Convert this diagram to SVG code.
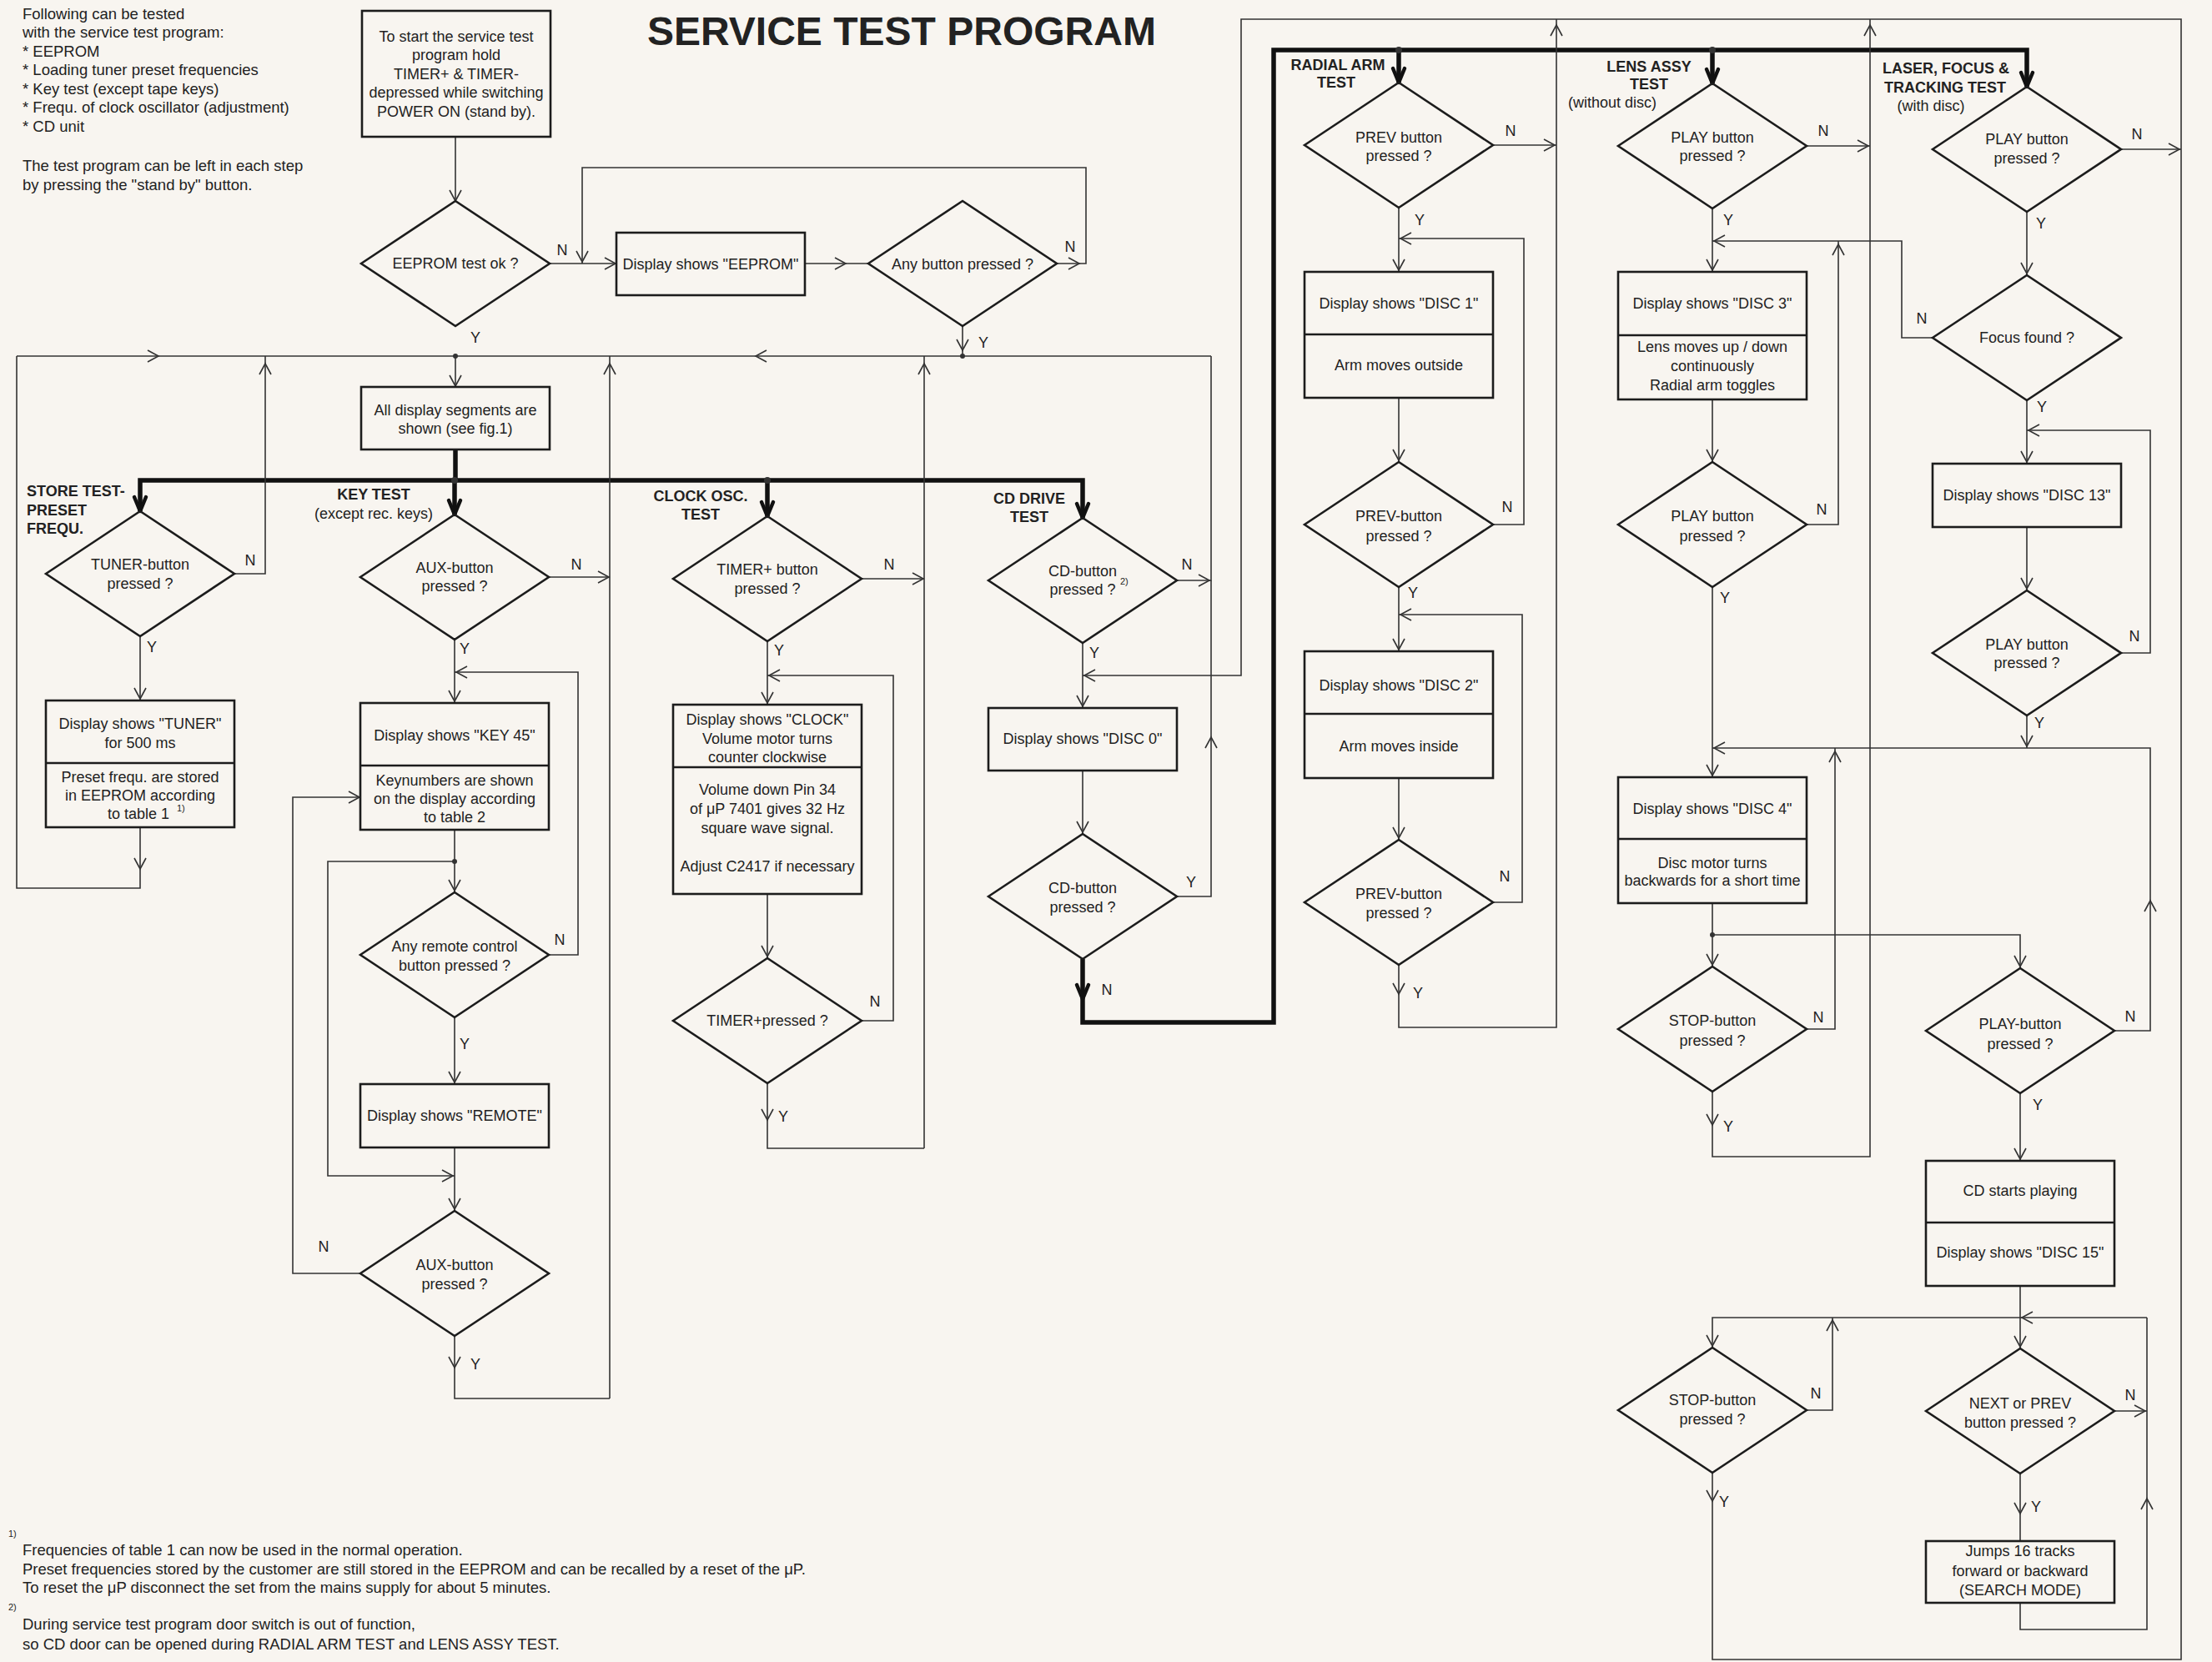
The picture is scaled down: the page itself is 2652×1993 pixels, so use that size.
<svg xmlns="http://www.w3.org/2000/svg" width="2652" height="1993" viewBox="0 0 2652 1993">
<style>
.n rect,.n polygon,.n line{fill:none;stroke:#1c1c1c;stroke-width:2.6}
.c path{fill:none;stroke:#333;stroke-width:1.6}
.k path{fill:none;stroke:#111;stroke-width:5.5;stroke-linejoin:miter}
text{font-family:"Liberation Sans",Arial,Helvetica,sans-serif;fill:#222}
.t{font-size:18px;text-anchor:middle}
.b{font-size:18px;font-weight:bold;text-anchor:middle}
.bl{font-size:18px;font-weight:bold}
.l{font-size:18.5px}
.s{font-size:11px}
.yn{font-size:18px;text-anchor:middle}
.d{fill:#333}
</style>
<defs>
<path id="ar" d="M-13,-7 L0,0 L-13,7" fill="none" stroke="#333" stroke-width="1.6"/>
<path id="tar" d="M-17,-7 L0,0 L-17,7" fill="none" stroke="#111" stroke-width="4.5" stroke-linejoin="round" stroke-linecap="round"/>
</defs>
<rect width="2652" height="1993" fill="#f8f5f0"/>

<text x="776" y="54" font-size="48" font-weight="bold">SERVICE TEST PROGRAM</text>

<g id="intro" class="l">
<text x="27" y="23">Following can be tested</text>
<text x="27" y="45">with the service test program:</text>
<text x="27" y="68">* EEPROM</text>
<text x="27" y="90">* Loading tuner preset frequencies</text>
<text x="27" y="113">* Key test (except tape keys)</text>
<text x="27" y="135">* Frequ. of clock oscillator (adjustment)</text>
<text x="27" y="158">* CD unit</text>
<text x="27" y="205">The test program can be left in each step</text>
<text x="27" y="228">by pressing the "stand by" button.</text>
</g>

<!-- connectors -->
<g id="connectors">
<g class="k">
<path d="M546,539 V576 M168,613 V576 H1298 V621 M545,576 V617 M920,576 V619"/>
<path d="M1298,1150 V1226 H1527 V60 H2430 V104 M1677,60 V99 M2053,60 V100"/>
</g>
<use href="#tar" transform="translate(168,613) rotate(90)"/>
<use href="#tar" transform="translate(545,617) rotate(90)"/>
<use href="#tar" transform="translate(920,619) rotate(90)"/>
<use href="#tar" transform="translate(1298,621) rotate(90)"/>
<use href="#tar" transform="translate(1298,1198) rotate(90)"/>
<use href="#tar" transform="translate(1677,99) rotate(90)"/>
<use href="#tar" transform="translate(2053,100) rotate(90)"/>
<use href="#tar" transform="translate(2430,104) rotate(90)"/>
<circle class="d" cx="545" cy="576" r="4"/>
<circle class="d" cx="920" cy="576" r="4"/>
<circle class="d" cx="1677" cy="60" r="4"/>
<circle class="d" cx="2053" cy="60" r="4"/>

<g class="c">
<path d="M546,164 V241"/>
<path d="M659,316 H739"/>
<path d="M965,316 H1041"/>
<path d="M1267,316 H1302 V201 H698 V316"/>
<path d="M1154,391 V427"/>
<path d="M20,427 H1452"/>
<path d="M546,427 V464"/>
<path d="M281,688 H318 V427"/>
<path d="M168,763 V840"/>
<path d="M168,992 V1065 H20 V427"/>
<path d="M658,692 H731"/>
<path d="M731,1677 V427"/>
<path d="M545,767 V843"/>
<path d="M658,1145 H693 V806 H545"/>
<path d="M545,995 V1070"/>
<path d="M545,1033 H393 V1410 H545"/>
<path d="M545,1220 V1300"/>
<path d="M545,1376 V1452"/>
<path d="M432,1527 H351 V956 H432"/>
<path d="M545,1602 V1677 H731"/>
<path d="M1033,694 H1108"/>
<path d="M1108,1377 V427"/>
<path d="M920,769 V845"/>
<path d="M1033,1224 H1071 V810 H920"/>
<path d="M920,1072 V1149"/>
<path d="M920,1299 V1377 H1108"/>
<path d="M1411,696 H1452 V427"/>
<path d="M1298,771 V849"/>
<path d="M1298,924 V1000"/>
<path d="M1411,1075 H1452 V696"/>
<path d="M2053,1766 V1990 H2615 V23 H1488 V810 H1298"/>
<path d="M1790,174 H1866"/>
<path d="M1677,1157 V1232 H1866 V23"/>
<path d="M1677,249 V326"/>
<path d="M1790,629 H1827 V286 H1677"/>
<path d="M1677,477 V554"/>
<path d="M1677,704 V781"/>
<path d="M1790,1082 H1825 V737 H1677"/>
<path d="M1677,933 V1007"/>
<path d="M2166,175 H2242"/>
<path d="M2053,1309 V1387 H2242 V23"/>
<path d="M2053,250 V326"/>
<path d="M2317,405 H2280 V289 H2053"/>
<path d="M2166,629 H2204 V289"/>
<path d="M2053,479 V554"/>
<path d="M2053,704 V932"/>
<path d="M2430,858 V897"/>
<path d="M2053,897 H2578 V1236 H2535"/>
<path d="M2166,1234 H2200 V897"/>
<path d="M2053,1083 V1159"/>
<path d="M2053,1121 H2422 V1161"/>
<path d="M2543,179 H2615"/>
<path d="M2430,254 V330"/>
<path d="M2430,480 V556"/>
<path d="M2543,783 H2578 V516 H2430"/>
<path d="M2430,632 V708"/>
<path d="M2422,1311 V1392"/>
<path d="M2422,1542 V1617"/>
<path d="M2053,1616 V1580 H2574"/>
<path d="M2166,1691 H2197 V1580"/>
<path d="M2535,1692 H2574"/>
<path d="M2422,1767 V1848"/>
<path d="M2422,1922 V1954 H2574 V1580"/>
</g>
<circle class="d" cx="1154" cy="427" r="3"/>
<circle class="d" cx="546" cy="427" r="3"/>
<circle class="d" cx="545" cy="1033" r="3"/>
<circle class="d" cx="2053" cy="1121" r="3"/>

<use href="#ar" transform="translate(546,241) rotate(90)"/>
<use href="#ar" transform="translate(738,316)"/>
<use href="#ar" transform="translate(1014,316)"/>
<use href="#ar" transform="translate(1294,316)"/>
<use href="#ar" transform="translate(698,314) rotate(90)"/>
<use href="#ar" transform="translate(1154,420) rotate(90)"/>
<use href="#ar" transform="translate(190,427)"/>
<use href="#ar" transform="translate(906,427) rotate(180)"/>
<use href="#ar" transform="translate(546,463) rotate(90)"/>
<use href="#ar" transform="translate(318,436) rotate(270)"/>
<use href="#ar" transform="translate(168,838) rotate(90)"/>
<use href="#ar" transform="translate(168,1042) rotate(90)"/>
<use href="#ar" transform="translate(730,692)"/>
<use href="#ar" transform="translate(731,436) rotate(270)"/>
<use href="#ar" transform="translate(545,841) rotate(90)"/>
<use href="#ar" transform="translate(547,806) rotate(180)"/>
<use href="#ar" transform="translate(545,1068) rotate(90)"/>
<use href="#ar" transform="translate(543,1410)"/>
<use href="#ar" transform="translate(545,1298) rotate(90)"/>
<use href="#ar" transform="translate(545,1450) rotate(90)"/>
<use href="#ar" transform="translate(431,956)"/>
<use href="#ar" transform="translate(545,1640) rotate(90)"/>
<use href="#ar" transform="translate(1107,694)"/>
<use href="#ar" transform="translate(1108,436) rotate(270)"/>
<use href="#ar" transform="translate(920,843) rotate(90)"/>
<use href="#ar" transform="translate(922,810) rotate(180)"/>
<use href="#ar" transform="translate(920,1147) rotate(90)"/>
<use href="#ar" transform="translate(920,1343) rotate(90)"/>
<use href="#ar" transform="translate(1450,696)"/>
<use href="#ar" transform="translate(1298,847) rotate(90)"/>
<use href="#ar" transform="translate(1300,810) rotate(180)"/>
<use href="#ar" transform="translate(1298,998) rotate(90)"/>
<use href="#ar" transform="translate(1452,884) rotate(270)"/>
<use href="#ar" transform="translate(2053,1800) rotate(90)"/>
<use href="#ar" transform="translate(1864,174)"/>
<use href="#ar" transform="translate(1677,1192) rotate(90)"/>
<use href="#ar" transform="translate(1866,30) rotate(270)"/>
<use href="#ar" transform="translate(1677,324) rotate(90)"/>
<use href="#ar" transform="translate(1679,286) rotate(180)"/>
<use href="#ar" transform="translate(1677,552) rotate(90)"/>
<use href="#ar" transform="translate(1677,779) rotate(90)"/>
<use href="#ar" transform="translate(1679,737) rotate(180)"/>
<use href="#ar" transform="translate(1677,1005) rotate(90)"/>
<use href="#ar" transform="translate(2240,175)"/>
<use href="#ar" transform="translate(2053,1349) rotate(90)"/>
<use href="#ar" transform="translate(2242,30) rotate(270)"/>
<use href="#ar" transform="translate(2053,324) rotate(90)"/>
<use href="#ar" transform="translate(2055,289) rotate(180)"/>
<use href="#ar" transform="translate(2204,293) rotate(270)"/>
<use href="#ar" transform="translate(2053,552) rotate(90)"/>
<use href="#ar" transform="translate(2053,930) rotate(90)"/>
<use href="#ar" transform="translate(2055,897) rotate(180)"/>
<use href="#ar" transform="translate(2430,895) rotate(90)"/>
<use href="#ar" transform="translate(2578,1080) rotate(270)"/>
<use href="#ar" transform="translate(2200,901) rotate(270)"/>
<use href="#ar" transform="translate(2053,1157) rotate(90)"/>
<use href="#ar" transform="translate(2422,1159) rotate(90)"/>
<use href="#ar" transform="translate(2613,179)"/>
<use href="#ar" transform="translate(2430,328) rotate(90)"/>
<use href="#ar" transform="translate(2430,554) rotate(90)"/>
<use href="#ar" transform="translate(2432,516) rotate(180)"/>
<use href="#ar" transform="translate(2430,706) rotate(90)"/>
<use href="#ar" transform="translate(2422,1390) rotate(90)"/>
<use href="#ar" transform="translate(2422,1615) rotate(90)"/>
<use href="#ar" transform="translate(2424,1580) rotate(180)"/>
<use href="#ar" transform="translate(2053,1614) rotate(90)"/>
<use href="#ar" transform="translate(2197,1583) rotate(270)"/>
<use href="#ar" transform="translate(2572,1692)"/>
<use href="#ar" transform="translate(2422,1815) rotate(90)"/>
<use href="#ar" transform="translate(2574,1797) rotate(270)"/>

<g class="yn">
<text x="674" y="306">N</text><text x="570" y="411">Y</text>
<text x="1283" y="302">N</text><text x="1179" y="417">Y</text>
<text x="300" y="678">N</text><text x="182" y="782">Y</text>
<text x="691" y="683">N</text><text x="557" y="784">Y</text>
<text x="671" y="1133">N</text><text x="557" y="1258">Y</text>
<text x="388" y="1501">N</text><text x="570" y="1642">Y</text>
<text x="1066" y="683">N</text><text x="934" y="786">Y</text>
<text x="1049" y="1207">N</text><text x="939" y="1345">Y</text>
<text x="1423" y="683">N</text><text x="1312" y="789">Y</text>
<text x="1428" y="1064">Y</text><text x="1327" y="1193">N</text>
<text x="1811" y="163">N</text><text x="1702" y="270">Y</text>
<text x="1807" y="614">N</text><text x="1694" y="717">Y</text>
<text x="1804" y="1057">N</text><text x="1700" y="1197">Y</text>
<text x="2186" y="163">N</text><text x="2072" y="270">Y</text>
<text x="2184" y="617">N</text><text x="2068" y="723">Y</text>
<text x="2180" y="1226">N</text><text x="2072" y="1357">Y</text>
<text x="2177" y="1677">N</text><text x="2067" y="1807">Y</text>
<text x="2562" y="167">N</text><text x="2447" y="274">Y</text>
<text x="2304" y="388">N</text><text x="2448" y="494">Y</text>
<text x="2559" y="769">N</text><text x="2445" y="873">Y</text>
<text x="2554" y="1225">N</text><text x="2443" y="1331">Y</text>
<text x="2554" y="1679">N</text><text x="2441" y="1813">Y</text>
</g>
</g>

<!-- section labels -->
<g id="labels">
<text class="bl" x="32" y="595">STORE TEST-</text>
<text class="bl" x="32" y="618">PRESET</text>
<text class="bl" x="32" y="640">FREQU.</text>
<text class="b" x="448" y="599">KEY TEST</text>
<text class="t" x="448" y="622">(except rec. keys)</text>
<text class="b" x="840" y="601">CLOCK OSC.</text>
<text class="b" x="840" y="623">TEST</text>
<text class="b" x="1234" y="604">CD DRIVE</text>
<text class="b" x="1234" y="626">TEST</text>
<text class="b" x="1604" y="84">RADIAL ARM</text>
<text class="b" x="1602" y="105">TEST</text>
<text class="b" x="1977" y="86">LENS ASSY</text>
<text class="b" x="1977" y="107">TEST</text>
<text class="t" x="1933" y="129">(without disc)</text>
<text class="b" x="2333" y="88">LASER, FOCUS &amp;</text>
<text class="b" x="2332" y="111">TRACKING TEST</text>
<text class="t" x="2315" y="133">(with disc)</text>
</g>

<!-- nodes -->
<g id="n-start" class="n"><rect x="434" y="13" width="226" height="151"/>
<text class="t" x="547" y="50">To start the service test</text>
<text class="t" x="547" y="72">program hold</text>
<text class="t" x="547" y="95">TIMER+ &amp; TIMER-</text>
<text class="t" x="547" y="117">depressed while switching</text>
<text class="t" x="547" y="140">POWER ON (stand by).</text></g>

<g id="n-eeprom-test" class="n"><polygon points="433,316 546,241 659,316 546,391"/>
<text class="t" x="546" y="322">EEPROM test ok ?</text></g>

<g id="n-eeprom-display" class="n"><rect x="739" y="279" width="226" height="75"/>
<text class="t" x="852" y="323">Display shows "EEPROM"</text></g>

<g id="n-any-button" class="n"><polygon points="1041,316 1154,241 1267,316 1154,391"/>
<text class="t" x="1154" y="323">Any button pressed ?</text></g>

<g id="n-all-segments" class="n"><rect x="433" y="464" width="226" height="75"/>
<text class="t" x="546" y="498">All display segments are</text>
<text class="t" x="546" y="520">shown (see fig.1)</text></g>

<g id="n-tuner-q" class="n"><polygon points="55,688 168,613 281,688 168,763"/>
<text class="t" x="168" y="683">TUNER-button</text>
<text class="t" x="168" y="706">pressed ?</text></g>

<g id="n-tuner-box" class="n"><rect x="55" y="840" width="226" height="152"/><line x1="55" y1="915" x2="281" y2="915"/>
<text class="t" x="168" y="874">Display shows "TUNER"</text>
<text class="t" x="168" y="897">for 500 ms</text>
<text class="t" x="168" y="938">Preset frequ. are stored</text>
<text class="t" x="168" y="960">in EEPROM according</text>
<text class="t" x="166" y="982">to table 1</text>
<text class="s" x="212" y="973">1)</text></g>

<g id="n-aux-q" class="n"><polygon points="432,692 545,617 658,692 545,767"/>
<text class="t" x="545" y="687">AUX-button</text>
<text class="t" x="545" y="709">pressed ?</text></g>

<g id="n-key-box" class="n"><rect x="432" y="843" width="226" height="152"/><line x1="432" y1="918" x2="658" y2="918"/>
<text class="t" x="545" y="888">Display shows "KEY 45"</text>
<text class="t" x="545" y="942">Keynumbers are shown</text>
<text class="t" x="545" y="964">on the display according</text>
<text class="t" x="545" y="986">to table 2</text></g>

<g id="n-remote-q" class="n"><polygon points="432,1145 545,1070 658,1145 545,1220"/>
<text class="t" x="545" y="1141">Any remote control</text>
<text class="t" x="545" y="1164">button pressed ?</text></g>

<g id="n-remote-box" class="n"><rect x="432" y="1300" width="226" height="76"/>
<text class="t" x="545" y="1344">Display shows "REMOTE"</text></g>

<g id="n-aux2-q" class="n"><polygon points="432,1527 545,1452 658,1527 545,1602"/>
<text class="t" x="545" y="1523">AUX-button</text>
<text class="t" x="545" y="1546">pressed ?</text></g>

<g id="n-timer-q" class="n"><polygon points="807,694 920,619 1033,694 920,769"/>
<text class="t" x="920" y="689">TIMER+ button</text>
<text class="t" x="920" y="712">pressed ?</text></g>

<g id="n-clock-box" class="n"><rect x="807" y="845" width="226" height="227"/><line x1="807" y1="920" x2="1033" y2="920"/>
<text class="t" x="920" y="869">Display shows "CLOCK"</text>
<text class="t" x="920" y="892">Volume motor turns</text>
<text class="t" x="920" y="914">counter clockwise</text>
<text class="t" x="920" y="953">Volume down Pin 34</text>
<text class="t" x="920" y="976">of μP 7401 gives 32 Hz</text>
<text class="t" x="920" y="999">square wave signal.</text>
<text class="t" x="920" y="1045">Adjust C2417 if necessary</text></g>

<g id="n-timer2-q" class="n"><polygon points="807,1224 920,1149 1033,1224 920,1299"/>
<text class="t" x="920" y="1230">TIMER+pressed ?</text></g>

<g id="n-cd-q" class="n"><polygon points="1185,696 1298,621 1411,696 1298,771"/>
<text class="t" x="1298" y="691">CD-button</text>
<text class="t" x="1298" y="713">pressed ?</text>
<text class="s" x="1343" y="701">2)</text></g>

<g id="n-disc0" class="n"><rect x="1185" y="849" width="226" height="75"/>
<text class="t" x="1298" y="892">Display shows "DISC 0"</text></g>

<g id="n-cd2-q" class="n"><polygon points="1185,1075 1298,1000 1411,1075 1298,1150"/>
<text class="t" x="1298" y="1071">CD-button</text>
<text class="t" x="1298" y="1094">pressed ?</text></g>

<g id="n-prev-q" class="n"><polygon points="1564,174 1677,99 1790,174 1677,249"/>
<text class="t" x="1677" y="171">PREV button</text>
<text class="t" x="1677" y="193">pressed ?</text></g>

<g id="n-disc1" class="n"><rect x="1564" y="326" width="226" height="151"/><line x1="1564" y1="401" x2="1790" y2="401"/>
<text class="t" x="1677" y="370">Display shows "DISC 1"</text>
<text class="t" x="1677" y="444">Arm moves outside</text></g>

<g id="n-prev1-q" class="n"><polygon points="1564,629 1677,554 1790,629 1677,704"/>
<text class="t" x="1677" y="625">PREV-button</text>
<text class="t" x="1677" y="649">pressed ?</text></g>

<g id="n-disc2" class="n"><rect x="1564" y="781" width="226" height="152"/><line x1="1564" y1="856" x2="1790" y2="856"/>
<text class="t" x="1677" y="828">Display shows "DISC 2"</text>
<text class="t" x="1677" y="901">Arm moves inside</text></g>

<g id="n-prev2-q" class="n"><polygon points="1564,1082 1677,1007 1790,1082 1677,1157"/>
<text class="t" x="1677" y="1078">PREV-button</text>
<text class="t" x="1677" y="1101">pressed ?</text></g>

<g id="n-lens-play-q" class="n"><polygon points="1940,175 2053,100 2166,175 2053,250"/>
<text class="t" x="2053" y="171">PLAY button</text>
<text class="t" x="2053" y="193">pressed ?</text></g>

<g id="n-disc3" class="n"><rect x="1940" y="326" width="226" height="153"/><line x1="1940" y1="402" x2="2166" y2="402"/>
<text class="t" x="2053" y="370">Display shows "DISC 3"</text>
<text class="t" x="2053" y="422">Lens moves up / down</text>
<text class="t" x="2053" y="445">continuously</text>
<text class="t" x="2053" y="468">Radial arm toggles</text></g>

<g id="n-lens-play2-q" class="n"><polygon points="1940,629 2053,554 2166,629 2053,704"/>
<text class="t" x="2053" y="625">PLAY button</text>
<text class="t" x="2053" y="649">pressed ?</text></g>

<g id="n-disc4" class="n"><rect x="1940" y="932" width="226" height="151"/><line x1="1940" y1="1006" x2="2166" y2="1006"/>
<text class="t" x="2053" y="976">Display shows "DISC 4"</text>
<text class="t" x="2053" y="1041">Disc motor turns</text>
<text class="t" x="2053" y="1062">backwards for a short time</text></g>

<g id="n-stop-q" class="n"><polygon points="1940,1234 2053,1159 2166,1234 2053,1309"/>
<text class="t" x="2053" y="1230">STOP-button</text>
<text class="t" x="2053" y="1254">pressed ?</text></g>

<g id="n-stop2-q" class="n"><polygon points="1940,1691 2053,1616 2166,1691 2053,1766"/>
<text class="t" x="2053" y="1685">STOP-button</text>
<text class="t" x="2053" y="1708">pressed ?</text></g>

<g id="n-laser-play-q" class="n"><polygon points="2317,179 2430,104 2543,179 2430,254"/>
<text class="t" x="2430" y="173">PLAY button</text>
<text class="t" x="2430" y="196">pressed ?</text></g>

<g id="n-focus-q" class="n"><polygon points="2317,405 2430,330 2543,405 2430,480"/>
<text class="t" x="2430" y="411">Focus found ?</text></g>

<g id="n-disc13" class="n"><rect x="2317" y="556" width="226" height="76"/>
<text class="t" x="2430" y="600">Display shows "DISC 13"</text></g>

<g id="n-laser-play2-q" class="n"><polygon points="2317,783 2430,708 2543,783 2430,858"/>
<text class="t" x="2430" y="779">PLAY button</text>
<text class="t" x="2430" y="801">pressed ?</text></g>

<g id="n-play-button-q" class="n"><polygon points="2309,1236 2422,1161 2535,1236 2422,1311"/>
<text class="t" x="2422" y="1234">PLAY-button</text>
<text class="t" x="2422" y="1258">pressed ?</text></g>

<g id="n-cd-playing" class="n"><rect x="2309" y="1392" width="226" height="150"/><line x1="2309" y1="1466" x2="2535" y2="1466"/>
<text class="t" x="2422" y="1434">CD starts playing</text>
<text class="t" x="2422" y="1508">Display shows "DISC 15"</text></g>

<g id="n-next-q" class="n"><polygon points="2309,1692 2422,1617 2535,1692 2422,1767"/>
<text class="t" x="2422" y="1689">NEXT or PREV</text>
<text class="t" x="2422" y="1712">button pressed ?</text></g>

<g id="n-jumps" class="n"><rect x="2309" y="1848" width="226" height="74"/>
<text class="t" x="2422" y="1866">Jumps 16 tracks</text>
<text class="t" x="2422" y="1890">forward or backward</text>
<text class="t" x="2422" y="1913">(SEARCH MODE)</text></g>

<g id="footnotes" class="l">
<text class="s" x="10" y="1843">1)</text>
<text x="27" y="1865">Frequencies of table 1 can now be used in the normal operation.</text>
<text x="27" y="1888">Preset frequencies stored by the customer are still stored in the EEPROM and can be recalled by a reset of the μP.</text>
<text x="27" y="1910">To reset the μP disconnect the set from the mains supply for about 5 minutes.</text>
<text class="s" x="10" y="1931">2)</text>
<text x="27" y="1954">During service test program door switch is out of function,</text>
<text x="27" y="1978">so CD door can be opened during RADIAL ARM TEST and LENS ASSY TEST.</text>
</g>
</svg>
